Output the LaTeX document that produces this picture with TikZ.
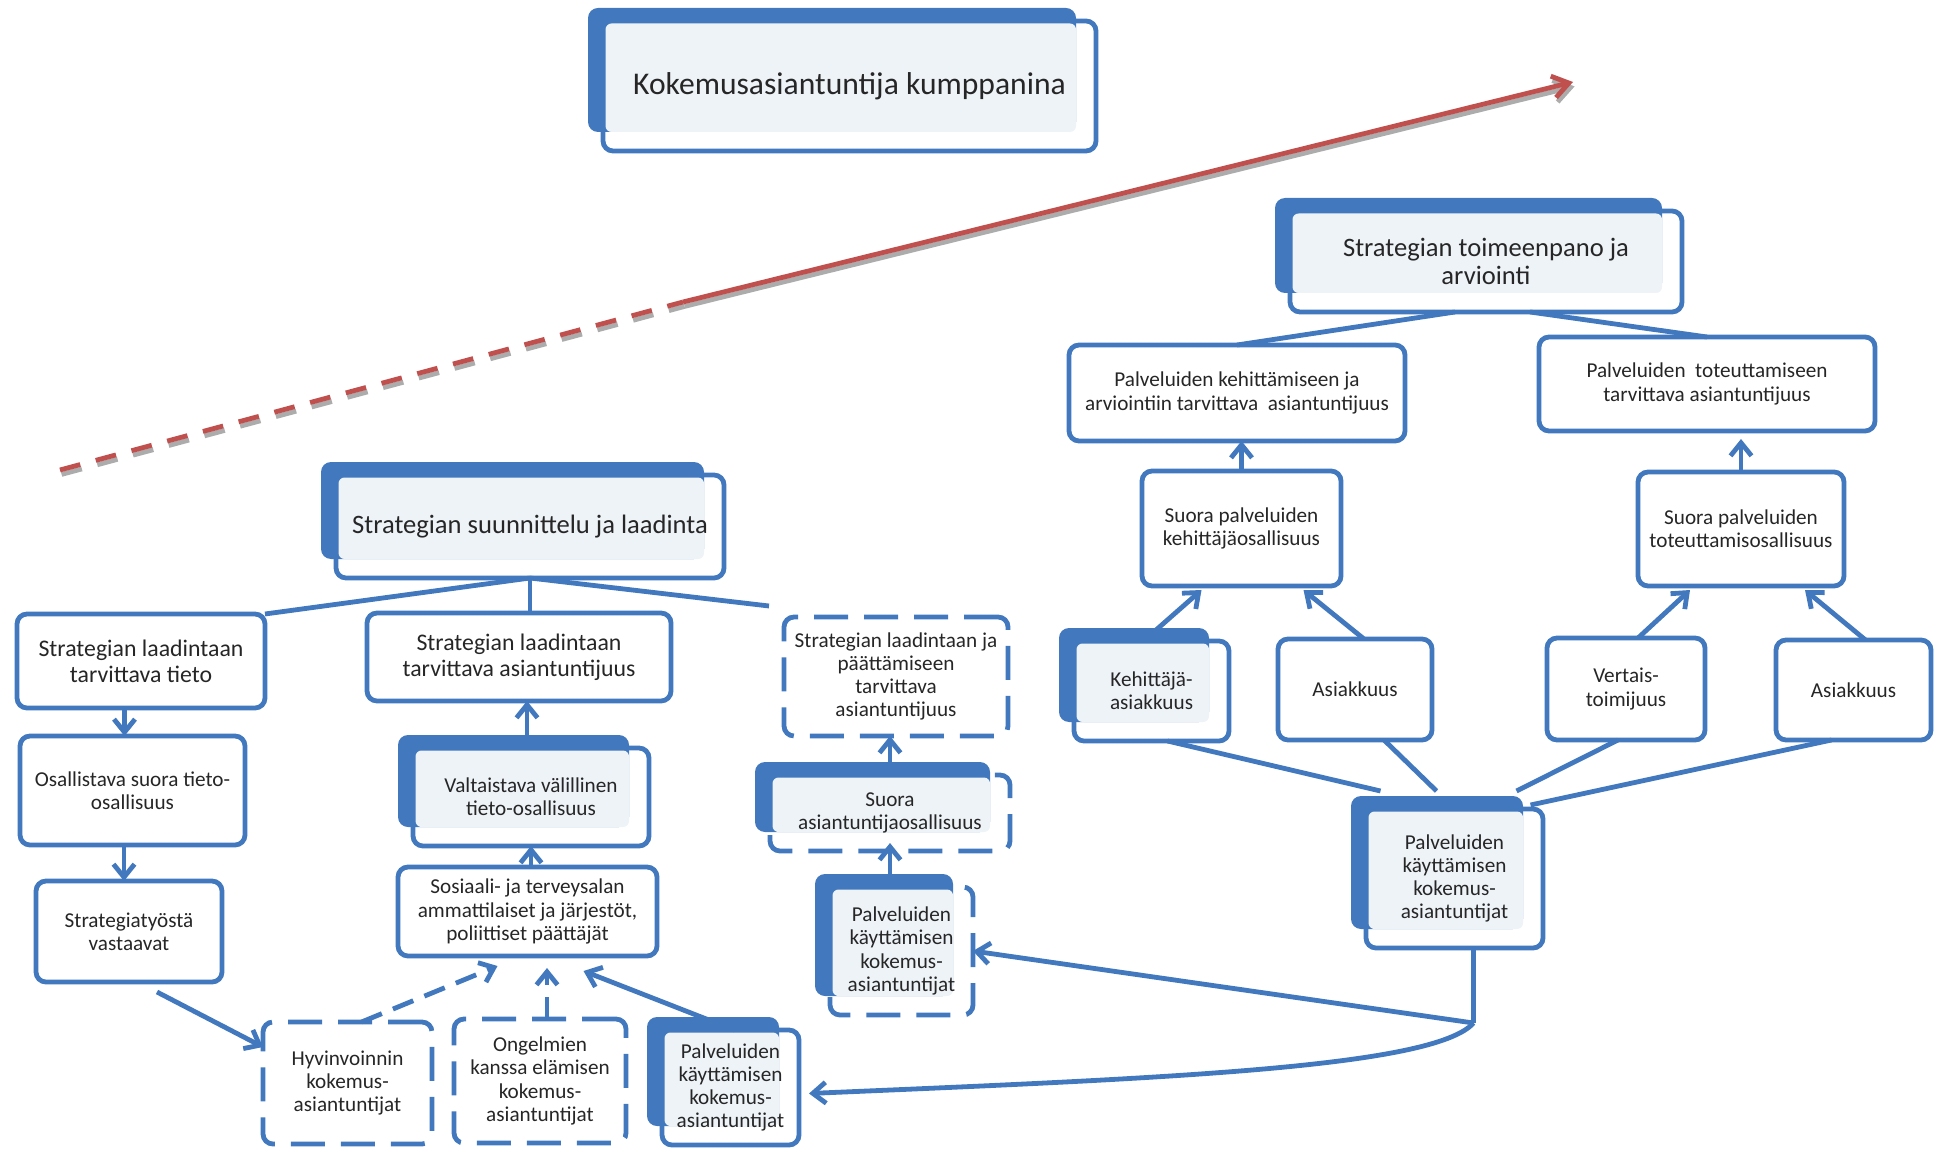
\documentclass[tikz,border=0pt]{standalone}
\usepackage{fontspec}
\setmainfont{Carlito}
\usetikzlibrary{positioning,calc,arrows.meta,backgrounds}
\definecolor{accent}{RGB}{65,120,190}
\definecolor{soft}{RGB}{238,243,248}
\definecolor{ink}{RGB}{38,38,38}
\definecolor{trend}{RGB}{192,80,77}
\tikzset{
  wh/.style 2 args={minimum width=#1*0.5pt,minimum height=#2*0.5pt},
  box/.style={draw=accent,line width=2.4pt,rounded corners=5pt,inner sep=0pt,outer sep=0pt,
    align=center,text=ink,font=\fontsize{10.6}{11.6}\selectfont},
  dbox/.style={box,dash pattern=on 17pt off 8pt},
  bigbox/.style={box,font=\fontsize{11.9}{13}\selectfont},
  emph/.style={box,draw=none},
  head/.style={emph,font=\fontsize{13.3}{14}\selectfont},
  link/.style={accent,line width=2.4pt},
  arr/.style={link,-{Straight Barb[length=6.5pt,width=10.5pt]}},
  darr/.style={arr,dash pattern=on 11pt off 6pt},
  trendline/.style={line width=2.4pt},
}
% outline, dark tab and light panel behind a highlighted node
\newcommand{\accentbox}[2][solid]{%
  \draw[accent,line width=2.4pt,rounded corners=5pt,#1] (#2.north west) rectangle (#2.south east);
  \fill[accent,rounded corners=5pt] ($(#2.north west)+(-15,-13)$) rectangle ($(#2.south east)+(-20,-19)$);
  \fill[soft,rounded corners=3pt] ($(#2.north west)+(2.5,2.5)$) rectangle ($(#2.south east)+(-20,-19)$);
}

\begin{document}
\begin{tikzpicture}[x=0.5pt,y=-0.5pt]
\useasboundingbox (0,0) rectangle (1946,1149);

% trend arrow
\coordinate (tA) at (60,470);
\coordinate (tB) at (683,302);
\coordinate (tC) at (1573,82);
\begin{scope}[transform canvas={shift={(0.8pt,-2.2pt)}}]
\draw[trendline,gray!65,dash pattern=on 10.5pt off 8pt] (tA) -- (tB);
\draw[trendline,gray!65,-{Straight Barb[length=8pt,width=11pt]}] (tB) -- (tC);
\end{scope}
\draw[trendline,trend,dash pattern=on 10.5pt off 8pt] (tA) -- (tB);
\draw[trendline,trend,-{Straight Barb[length=8pt,width=11pt]}] (tB) -- (tC);

% headings
\node[emph,wh={493}{130},font=\fontsize{15.8}{17}\selectfont] (title) at (849.5,86) {Kokemusasiantuntija kumppanina};
\node[head,wh={392}{101}] (toimeen) at (1486,261.5) {Strategian toimeenpano ja\\arviointi};
\node[head,wh={388}{103}] (suunn) at (530,526.5) {Strategian suunnittelu ja laadinta};

% left branch
\node[bigbox,wh={248}{94}] (tieto) at (141,661) {Strategian laadintaan\\tarvittava tieto};
\node[box,wh={225}{109}] (osall) at (132.5,790.5) {Osallistava suora tieto-\\osallisuus};
\node[box,wh={186}{101}] (vast) at (129,931.5) {Strategiatyöstä\\vastaavat};

% middle branch
\node[bigbox,wh={304}{88}] (asiant) at (519,657) {Strategian laadintaan\\tarvittava asiantuntijuus};
\node[emph,wh={236}{98}] (valt) at (531,797) {Valtaistava välillinen\\tieto-osallisuus};
\node[box,wh={259}{89}] (sos) at (527.5,911.5) {Sosiaali- ja terveysalan\\ammattilaiset ja järjestöt,\\poliittiset päättäjät};
\node[dbox,wh={169}{122}] (hyv) at (347.5,1083) {Hyvinvoinnin\\kokemus-\\asiantuntijat};
\node[dbox,wh={172}{124}] (ong) at (540,1081) {Ongelmien\\kanssa elämisen\\kokemus-\\asiantuntijat};
\node[emph,wh={137}{115}] (palvA) at (730.5,1087.5) {Palveluiden\\käyttämisen\\kokemus-\\asiantuntijat};

% third branch
\node[dbox,wh={224}{119}] (laadja) at (896,676.5) {Strategian laadintaan ja\\päättämiseen\\tarvittava\\asiantuntijuus};
\node[emph,wh={240}{76}] (suoras) at (890,813) {Suora\\asiantuntijaosallisuus};
\node[emph,wh={143}{128}] (palvB) at (901.5,951) {Palveluiden\\käyttämisen\\kokemus-\\asiantuntijat};

% implementation side
\node[box,wh={336}{96}] (kehit) at (1237,393) {Palveluiden kehittämiseen ja\\arviointiin tarvittava\ \ asiantuntijuus};
\node[box,wh={336}{94}] (toteut) at (1707,384) {Palveluiden\ \ toteuttamiseen\\tarvittava asiantuntijuus};
\node[box,wh={199}{115}] (suokeh) at (1241.5,528.5) {Suora palveluiden\\kehittäjäosallisuus};
\node[box,wh={206}{114}] (suotot) at (1741,529) {Suora palveluiden\\toteuttamisosallisuus};
\node[emph,wh={155}{100}] (kehas) at (1151.5,691) {Kehittäjä-\\asiakkuus};
\node[box,wh={154}{101}] (asiA) at (1355,689.5) {Asiakkuus};
\node[box,wh={158}{102}] (vert) at (1626,689) {Vertais-\\toimijuus};
\node[box,wh={155}{100}] (asiB) at (1853.5,690) {Asiakkuus};
\node[emph,wh={177}{139}] (palvC) at (1454.5,878.5) {Palveluiden\\käyttämisen\\kokemus-\\asiantuntijat};

\begin{scope}[on background layer]
\accentbox{title}
\accentbox{toimeen}
\accentbox{suunn}
\accentbox{valt}
\accentbox{palvA}
\accentbox[dash pattern=on 17pt off 8pt]{suoras}
\accentbox[dash pattern=on 17pt off 8pt]{palvB}
\accentbox{kehas}
\accentbox{palvC}
\end{scope}

% planning tree
\draw[link] (suunn.south) -- (tieto.north east);
\draw[link] (suunn.south) -- (suunn.south |- asiant.north);
\draw[link] (suunn.south) -- ([xshift=-7.5pt,yshift=5.5pt]laadja.north west);
\draw[arr] ([xshift=-4pt]osall.north |- tieto.south) -- ([xshift=-4pt]osall.north);
\draw[arr] ([xshift=-2.5pt]vast.north |- osall.south) -- ([xshift=-2.5pt]vast.north);
\draw[arr] ([xshift=14pt,yshift=-5pt]vast.south) -- ([yshift=-12.5pt]hyv.north west);
\draw[arr] ([xshift=-2pt,yshift=6pt]valt.north) -- ([xshift=-2pt]valt.north |- asiant.south);
\draw[arr] (valt.south |- sos.north) -- (valt.south);
\draw[darr] ([xshift=7pt]hyv.north) -- ([xshift=-15pt,yshift=-5pt]sos.south);
\draw[darr] ([xshift=3.5pt]ong.north) -- ([xshift=3.5pt,yshift=-6pt]ong.north |- sos.south);
\draw[arr] ([xshift=2pt]palvA.north) -- ([xshift=28pt,yshift=-7.5pt]sos.south);
\draw[arr] ([yshift=5pt]suoras.north) -- (suoras.north |- laadja.south);
\draw[arr] ([yshift=5.5pt]palvB.north -| suoras.south) -- ([yshift=4pt]suoras.south);

% from the service users back to the left
\coordinate (split) at ([xshift=9.5pt,yshift=-37.5pt]palvC.south);
\draw[link] (palvC.south -| split) -- (split);
\draw[arr] (split) -- (palvB.east);
\draw[arr] (split) .. controls +(-40,45) and +(350,-15) .. ([xshift=5pt,yshift=-3pt]palvA.east);

% implementation tree
\draw[link] ([xshift=-15.5pt]toimeen.south) -- (kehit.north);
\draw[link] ([xshift=22pt]toimeen.south) -- (toteut.north);
\draw[arr] (suokeh.north) -- (suokeh.north |- kehit.south);
\draw[arr] (suotot.north) -- ([yshift=-4pt]suotot.north |- toteut.south);
\draw[arr] ([xshift=-4pt]kehas.north) -- ([xshift=-20pt,yshift=-2pt]suokeh.south);
\draw[arr] ([xshift=4.5pt]asiA.north) -- ([xshift=31pt,yshift=-2pt]suokeh.south);
\draw[arr] ([xshift=6pt]vert.north) -- ([xshift=-25.5pt,yshift=-2pt]suotot.south);
\draw[arr] ([xshift=6pt]asiB.north) -- ([xshift=32pt,yshift=-2pt]suotot.south);
\draw[link] ([xshift=8pt]kehas.south) -- ([xshift=-37pt,yshift=9pt]palvC.north);
\draw[link] ([xshift=14.5pt]asiA.south) -- ([xshift=-9pt,yshift=9pt]palvC.north);
\draw[link] ([xshift=-4pt]vert.south) -- ([xshift=31pt,yshift=9pt]palvC.north);
\draw[link] ([xshift=-11pt]asiB.south) -- ([xshift=38pt,yshift=2pt]palvC.north);
\end{tikzpicture}
\end{document}
